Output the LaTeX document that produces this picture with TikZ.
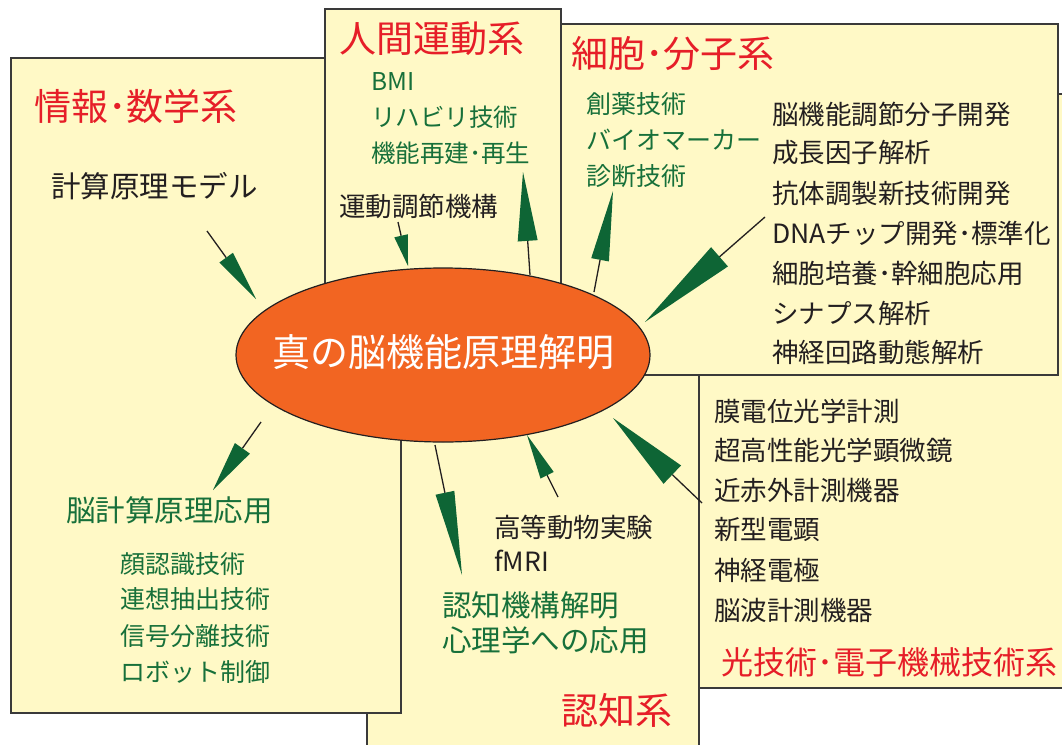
\documentclass[tikz,border=0pt]{standalone}
\usepackage{fontspec}
\setmainfont{Noto Sans CJK JP}
\usetikzlibrary{calc}
\definecolor{panelbg}{HTML}{FFF9C6}
\definecolor{panelline}{HTML}{3A3A3A}
\definecolor{titlered}{HTML}{E61E28}
\definecolor{textgreen}{HTML}{17703A}
\definecolor{dartgreen}{HTML}{0E6535}
\definecolor{textdark}{HTML}{231F20}
\definecolor{coreorange}{HTML}{F26522}
\newcommand\fsz[1]{\fontsize{#1}{#1}\selectfont}
\newcommand\dart[4]{%
  \coordinate (#2b) at ($(#2)!#3!(#1)$);
  \draw[dartline] (#1) -- (#2b);
  \fill[dartfill] (#2) -- ($(#2b)!#4!90:(#2)$) -- ($(#2b)!#4!-90:(#2)$) -- cycle;}
\tikzset{
  panel/.style={fill=panelbg, draw=panelline, line width=1.5pt},
  lbl/.style={anchor=west, inner sep=0pt, font=\fsz{#1}},
  redt/.style={lbl=#1, text=titlered},
  greent/.style={lbl=#1, text=textgreen},
  darkt/.style={lbl=#1, text=textdark},
  dartline/.style={draw=textdark, line width=1.3pt},
  dartfill/.style={fill=dartgreen},
  coreshape/.style={draw=textdark, line width=1.2pt, fill=coreorange},
}
\begin{document}
\begin{tikzpicture}[x=1pt,y=-1pt]
\useasboundingbox (0,0) rectangle (1062,744);
\clip (0,0) rectangle (1062,744);
\fill[white] (0,0) rectangle (1062,744);
% panels (back to front)
\draw[panel] (699,94) rectangle (1080,688);
\draw[panel] (367,330) rectangle (699,760);
\draw[panel] (11,58) rectangle (401,713);
\draw[panel] (325,9) rectangle (561,330);
\draw[panel] (561,24) rectangle (1058,375);
% core ellipse
\draw[coreshape] (443,355) ellipse [x radius=207pt, y radius=87pt];
\node[inner sep=0pt, text=white, font=\fsz{38}] (core) at (443,352) {真の脳機能原理解明};
% titles
\node[redt=37] (tinfo) at (34,106) {情報･数学系};
\node[redt=37] (tmove) at (339,39) {人間運動系};
\node[redt=37] (tcell) at (571,54) {細胞･分子系};
\node[redt=37] (tcog) at (561,710) {認知系};
\node[redt=32] (topt) at (721,662) {光技術･電子機械技術系};
% info panel
\node[darkt=29.5] (model) at (51,186) {計算原理モデル};
\node[greent=29.5] (apply) at (66,510) {脳計算原理応用};
\node[greent=25] (ap1) at (120,564) {顔認識技術};
\node[greent=25] (ap2) at (120,599) {連想抽出技術};
\node[greent=25] (ap3) at (120,636) {信号分離技術};
\node[greent=25] (ap4) at (120,672) {ロボット制御};
% movement panel
\node[greent=24.5] (mv1) at (371,82) {BMI};
\node[greent=24.5] (mv2) at (371,117) {リハビリ技術};
\node[greent=24.5] (mv3) at (371,153) {機能再建･再生};
\node[darkt=26.5] (mvin) at (339,206) {運動調節機構};
% cell panel
\node[greent=25] (cl1) at (586,104) {創薬技術};
\node[greent=25] (cl2) at (586,140) {バイオマーカー};
\node[greent=25] (cl3) at (586,176) {診断技術};
\node[darkt=26.5] (cr1) at (772,114) {脳機能調節分子開発};
\node[darkt=26.5] (cr2) at (772,153) {成長因子解析};
\node[darkt=26.5] (cr3) at (772,193) {抗体調製新技術開発};
\node[darkt=26.5] (cr4) at (772,233) {DNAチップ開発･標準化};
\node[darkt=26.5] (cr5) at (772,273) {細胞培養･幹細胞応用};
\node[darkt=26.5] (cr6) at (772,313) {シナプス解析};
\node[darkt=26.5] (cr7) at (772,352) {神経回路動態解析};
% optics panel
\node[darkt=26.5] (op1) at (714,411) {膜電位光学計測};
\node[darkt=26.5] (op2) at (714,450) {超高性能光学顕微鏡};
\node[darkt=26.5] (op3) at (714,490) {近赤外計測機器};
\node[darkt=26.5] (op4) at (714,530) {新型電顕};
\node[darkt=26.5] (op5) at (714,570) {神経電極};
\node[darkt=26.5] (op6) at (714,610) {脳波計測機器};
% cognition panel
\node[darkt=26.5] (cg1) at (494,527) {高等動物実験};
\node[darkt=26.5] (cg2) at (494,561) {fMRI};
\node[greent=29.5] (cg3) at (442,605) {認知機構解明};
\node[greent=29.5] (cg4) at (442,640) {心理学への応用};
% arrow end points
\coordinate (a1s) at (207,231); \coordinate (a1t) at (256,299);
\coordinate (a2s) at (398,222); \coordinate (a2t) at (408,266);
\coordinate (a3s) at (530,275); \coordinate (a3t) at (523,172);
\coordinate (a4s) at (594,292); \coordinate (a4t) at (613,191);
\coordinate (a5s) at (765,217); \coordinate (a5t) at (645,322);
\coordinate (a6s) at (261,422); \coordinate (a6t) at (213,490);
\coordinate (a7s) at (435,445); \coordinate (a7t) at (462,575);
\coordinate (a8s) at (558,497); \coordinate (a8t) at (527,435);
\coordinate (a9s) at (702,503); \coordinate (a9t) at (613,418);
\dart{a1s}{a1t}{51pt}{8.3pt}
\dart{a2s}{a2t}{31pt}{7pt}
\dart{a3s}{a3t}{69pt}{10pt}
\dart{a4s}{a4t}{70pt}{9pt}
\dart{a5s}{a5t}{99pt}{12.8pt}
\dart{a6s}{a6t}{51pt}{9.2pt}
\dart{a7s}{a7t}{84pt}{9.6pt}
\dart{a8s}{a8t}{45pt}{7.4pt}
\dart{a9s}{a9t}{82pt}{12.7pt}
\end{tikzpicture}
\end{document}
